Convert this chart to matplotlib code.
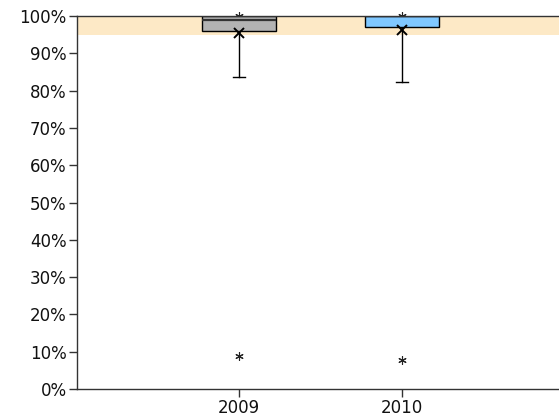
import matplotlib
matplotlib.use("Agg")
import matplotlib.pyplot as plt
from matplotlib.ticker import PercentFormatter

# values (percent)
years = ["2009", "2010"]
q1 = [96.1, 97.0]
median = [98.9, 100.0]
q3 = [100.0, 100.0]
whisker_low = [83.7, 82.3]
whisker_high = [100.0, 100.0]
means = [95.5, 96.2]
outliers = [[100.0, 8.8], [100.0, 7.7]]
box_colors = ["#b3b3b3", "#80c8ff"]
target_low, target_high = 95, 100

plt.rcParams["font.family"] = ["DejaVu Sans"]

fig = plt.figure(figsize=(5.59, 4.17), dpi=100)
ax = fig.add_axes([77 / 559, 28 / 417, 1 - 77 / 559, (389 - 16) / 417])

# target band
ax.axhspan(target_low, target_high, color="#fde9c6", zorder=0, lw=0)

stats = []
for i in range(len(years)):
    stats.append({
        "label": years[i],
        "q1": q1[i], "med": median[i], "q3": q3[i],
        "whislo": whisker_low[i], "whishi": whisker_high[i],
        "mean": means[i], "fliers": outliers[i],
    })

positions = list(range(1, len(years) + 1))
bp = ax.bxp(
    stats, positions=positions, widths=0.45, patch_artist=True,
    showmeans=True, showfliers=True,
    boxprops=dict(edgecolor="black", linewidth=1.0),
    medianprops=dict(color="#333333", linewidth=1.6),
    whiskerprops=dict(color="black", linewidth=1.0),
    capprops=dict(color="black", linewidth=1.0),
    capwidths=0.07,
    meanprops=dict(marker="x", markersize=7, markeredgecolor="black", markeredgewidth=1.4),
    flierprops=dict(marker=(6, 2, 0), markersize=6, markeredgecolor="#222222",
                    markerfacecolor="#222222", markeredgewidth=0.8, linestyle="none"),
)
for patch, c in zip(bp["boxes"], box_colors):
    patch.set_facecolor(c)
    patch.set_zorder(3)
for m in bp["medians"]:
    m.set_zorder(3.5)
for m in bp["means"]:
    m.set_zorder(4)
    m.set_clip_on(False)
for m in bp["fliers"]:
    m.set_zorder(1.5)
    m.set_clip_on(False)

ax.set_ylim(0, 100)
ax.set_xlim(1 - 162 / 163, 2 + 157 / 163)
ax.set_yticks(range(0, 101, 10))
ax.yaxis.set_major_formatter(PercentFormatter(decimals=0))
ax.set_xticks(positions)
ax.set_xticklabels(years)

ax.spines["right"].set_visible(False)
for s in ["left", "bottom", "top"]:
    ax.spines[s].set_linewidth(1.0)
    ax.spines[s].set_color("#333333")
    ax.spines[s].set_zorder(5)
ax.tick_params(axis="both", labelsize=12, length=5.5, width=1.0, color="#333333",
               labelcolor="#111111", pad=2)

fig.savefig("out.png", dpi=100)
